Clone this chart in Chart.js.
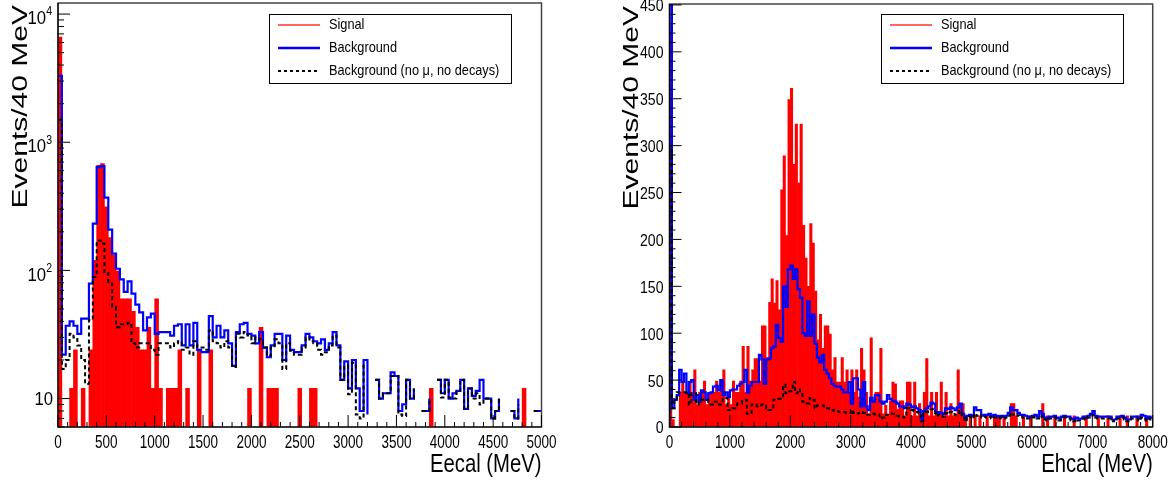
<!DOCTYPE html>
<html>
<head>
<meta charset="utf-8">
<script src="https://cdn.jsdelivr.net/npm/chart.js@4.4.1/dist/chart.umd.min.js"></script>
<style>
  body { margin: 0; background: #fff; }
  canvas { position: absolute; top: 0; }
  #ecal { left: 0; }
  #hcal { left: 585px; }
</style>
</head>
<body>
<canvas id="ecal" width="585" height="485"></canvas>
<canvas id="hcal" width="586" height="485"></canvas>
<script>
// 40 MeV bins, counts per bin
const BIN = 40;
const seriesNames = ['Signal', 'Background', 'Background (no \u03bc, no decays)'];

// ---- ECAL, 0-5000 MeV, 125 bins ----
const ecalSignal = [
  6600, 0, 0, 12, 24, 0, 12, 0, 24, 120,
  660, 680, 313, 180, 131, 99, 60, 60, 60, 48,
  36, 24, 24, 36, 12, 60, 12, 0, 12, 12,
  12, 24, 0, 12, 0, 0, 24, 0, 0, 24,
  0, 0, 0, 0, 0, 0, 0, 0, 0, 12,
  0, 0, 36, 0, 12, 12, 12, 0, 0, 0,
  0, 0, 12, 0, 0, 12, 12, 0, 0, 0,
  0, 0, 0, 0, 0, 0, 0, 0, 0, 0,
  0, 0, 0, 0, 0, 0, 0, 0, 0, 0,
  0, 0, 0, 0, 0, 0, 12, 0, 0, 0,
  0, 0, 0, 0, 0, 0, 0, 0, 0, 0,
  0, 0, 0, 0, 0, 0, 0, 0, 0, 0,
  12, 0, 0, 0, 0
];
const ecalBackground = [
  3300, 22, 37, 40, 37, 32, 42, 42, 79, 232,
  640, 650, 370, 208, 135, 103, 85, 68, 82, 66,
  54, 47, 34, 43, 46, 32, 33, 33, 33, 31,
  37, 38, 26, 38, 26, 39, 24, 23, 23, 44,
  30, 37, 30, 34, 27, 18, 33, 38, 39, 32,
  31, 27, 33, 25, 21, 26, 32, 32, 20, 31,
  24, 23, 23, 26, 32, 30, 28, 27, 29, 24,
  27, 33, 26, 14, 19.5, 12, 20, 12, 8, 20,
  7.5, 0, 14, 10, 11, 11, 16, 15, 8, 9,
  14, 10, 12, 0, 8, 8, 10, 0, 14, 11,
  14, 10, 11, 11.5, 14, 8.3, 12, 10.5, 11.5, 14,
  10, 10, 7, 8, 10, 0, 0, 8, 7, 10,
  0, 8, 0, 8, 8
];
const ecalBackgroundClean = [
  1500, 17, 20, 32, 30, 26, 20, 13, 41, 89,
  171, 162, 97, 79, 52, 36, 38, 38, 39, 27,
  25, 27, 27, 27, 24, 22, 27, 27, 27, 25,
  27, 28, 24, 25, 22, 28, 25, 25, 24, 34,
  28, 27, 25, 28, 25, 17.6, 32, 30, 33, 31,
  27, 30, 29, 25, 21.6, 25, 29, 27, 17, 27,
  23.6, 22, 22, 25, 30, 28, 27, 24, 22, 23,
  26, 31, 25, 14, 18, 10.8, 19, 7.5, 7, 19,
  0, 0, 14, 10, 11, 11, 15, 15, 7.5, 7.3,
  14, 10, 12, 0, 8, 8, 10, 0, 14, 10.2,
  14, 10.2, 10, 11.5, 14, 8.3, 12, 10, 11, 9,
  10, 10, 7, 8, 10, 0, 0, 8, 7, 9,
  0, 8, 0, 8, 8
];
const ecalXTicks = [0, 500, 1000, 1500, 2000, 2500, 3000, 3500, 4000, 4500, 5000];
const ecalYTicks = [10, 100, 1000, 10000];

// ---- HCAL, 0-8000 MeV, 200 bins ----
const hcalSignal = [
  428, 8, 0, 0, 37, 49, 37, 37, 49, 37,
  61, 24, 37, 37, 49, 24, 37, 37, 37, 49,
  37, 49, 61, 24, 37, 24, 49, 37, 37, 49,
  86, 37, 86, 49, 61, 73, 73, 49, 108, 108,
  74, 133, 158, 132, 156, 125, 253, 289, 204, 349,
  361, 280, 323, 260, 323, 215, 180, 150, 217, 196,
  145, 93, 120, 84, 108, 108, 99, 61, 74, 48,
  48, 74, 48, 61, 37, 61, 37, 61, 32, 84,
  61, 37, 14, 95, 28, 37, 37, 84, 14, 23,
  12, 28, 48, 46, 19, 28, 28, 12, 48, 48,
  12, 48, 12, 25, 12, 37, 73, 12, 37, 12,
  37, 12, 48, 12, 37, 12, 25, 12, 12, 61,
  25, 25, 12, 0, 12, 0, 12, 0, 12, 0,
  0, 12, 0, 0, 12, 12, 12, 0, 12, 0,
  0, 25, 25, 12, 0, 0, 12, 0, 0, 12,
  0, 0, 0, 0, 25, 0, 12, 0, 0, 12,
  0, 0, 0, 12, 0, 0, 0, 12, 0, 0,
  0, 0, 12, 0, 0, 0, 0, 12, 0, 0,
  0, 12, 0, 0, 0, 0, 12, 0, 0, 12,
  0, 0, 0, 12, 0, 0, 0, 12, 0, 0
];
const hcalBackground = [
  520, 20, 29, 34, 61, 48, 57, 36, 48, 50,
  29, 34, 27, 39, 37, 29, 36, 37, 43, 44,
  39, 50, 34, 37, 32, 39, 40, 40, 44, 46,
  48, 61, 37, 44, 48, 48, 48, 77, 72, 46,
  72, 73, 84, 86, 109, 95, 91, 150, 128, 168,
  172, 158, 168, 147, 138, 100, 97, 134, 97, 120,
  89, 74, 69, 77, 61, 57, 52, 46, 44, 43,
  43, 40, 37, 37, 48, 25, 52, 52, 40, 22,
  48, 22, 18, 31, 27, 34, 34, 27, 25, 27,
  34, 30, 28, 27, 25, 22, 22, 20, 25, 24,
  21, 22, 20, 18, 8, 17, 20, 22, 26, 25,
  15, 16, 15, 14, 20, 19, 21, 20, 18, 21,
  25, 14, 8, 12, 13, 12, 21, 18, 18, 12,
  13, 13, 14, 11, 13, 12, 11, 12, 11, 12,
  15, 21, 18, 18, 15, 13, 13, 12, 11, 11,
  12, 13, 11, 17, 14, 10, 9, 11, 11, 12,
  10, 9, 11, 12, 11, 11, 9, 8, 10, 9,
  9, 11, 10, 12, 14, 17, 12, 11, 11, 11,
  11, 11, 11, 8, 8, 11, 11, 12, 10, 8,
  8, 11, 11, 11, 9, 13, 12, 9, 11, 10
];
const hcalBackgroundClean = [
  300, 20, 30, 37, 37, 37, 37, 36, 24, 36,
  36, 24, 27, 29, 29, 29, 24, 24, 27, 27,
  24, 24, 31, 31, 18, 18, 20, 20, 25, 25,
  29, 29, 14, 14, 24, 24, 22, 22, 24, 24,
  20, 18, 18, 29, 29, 30, 30, 45, 36, 38,
  38, 48, 36, 40, 38, 27, 25, 25, 31, 29,
  20, 23, 23, 23, 20, 20, 18, 18, 17, 17,
  16, 16, 16, 15, 15, 18, 15, 14, 15, 16,
  15, 13, 13, 14, 14, 13, 13, 9, 10, 13,
  13, 14, 14, 14, 12, 11, 11, 10, 20, 20,
  18, 17, 16, 15, 6, 14, 16, 18, 19, 18,
  12, 13, 12, 11, 15, 14, 16, 15, 13, 15,
  17, 11, 6, 10, 11, 9, 14, 12, 13, 10,
  11, 10, 11, 9, 10, 10, 9, 10, 9, 10,
  12, 15, 13, 14, 12, 11, 10, 10, 9, 9,
  10, 11, 9, 12, 11, 8, 7, 9, 9, 10,
  8, 7, 9, 10, 9, 9, 7, 6, 8, 7,
  7, 9, 8, 10, 11, 13, 10, 9, 9, 9,
  9, 9, 9, 6, 7, 9, 9, 10, 8, 6,
  7, 9, 9, 9, 7, 10, 10, 7, 9, 8
];
const hcalXTicks = [0, 1000, 2000, 3000, 4000, 5000, 6000, 7000, 8000];
const hcalYTicks = [0, 50, 100, 150, 200, 250, 300, 350, 400, 450];

const FONT = '"Liberation Sans", Arial, Helvetica, sans-serif';

// bar per bin, centred in the bin; empty bins left out
function barPoints(values) {
  return values.map((v, i) => ({ x: i * BIN + BIN / 2, y: v > 0 ? v : null }));
}

// histogram outline: rise from the axis at x=0, then one step per bin
function stepPoints(values) {
  const pts = [{ x: 0, y: 0 }];
  values.forEach((v, i) => pts.push({ x: i * BIN, y: v }));
  pts.push({ x: values.length * BIN, y: values[values.length - 1] });
  return pts;
}

function text(ctx, str, x, y, size, align, baseline, squeeze, rotated) {
  ctx.save();
  ctx.translate(x, y);
  if (rotated) {
    ctx.rotate(-Math.PI / 2);
    ctx.scale(1, squeeze);
  } else {
    ctx.scale(squeeze, 1);
  }
  ctx.font = size + 'px ' + FONT;
  ctx.textAlign = align;
  ctx.textBaseline = baseline;
  ctx.fillStyle = '#000';
  ctx.fillText(str, 0, 0);
  ctx.restore();
}

// ROOT-style frame, inward ticks, labels, titles and legend box
function frameAndLegend(p) {
  return {
    id: 'frameAndLegend',
    afterDatasetsDraw(chart) {
      const { ctx, chartArea: a, scales: { x, y } } = chart;
      ctx.save();

      ctx.strokeStyle = '#444';
      ctx.lineWidth = 1.5;
      ctx.strokeRect(a.left, a.top, a.right - a.left, a.bottom - a.top);
      ctx.strokeStyle = '#000';
      ctx.lineWidth = 1.2;
      ctx.beginPath();
      ctx.moveTo(a.left, a.top);
      ctx.lineTo(a.left, a.bottom);
      ctx.lineTo(a.right, a.bottom);
      ctx.stroke();

      // x ticks
      ctx.lineWidth = 1;
      ctx.beginPath();
      for (let v = 0; v <= p.xMax; v += p.xMinor) {
        const px = x.getPixelForValue(v);
        const len = p.xTicks.includes(v) ? 12 : 5;
        ctx.moveTo(px, a.bottom);
        ctx.lineTo(px, a.bottom - len);
      }
      // y ticks
      if (p.log) {
        for (let d = 1; d <= 10000; d *= 10) {
          for (let m = 1; m <= 9; m++) {
            const v = m * d;
            if (v < p.yMin || v > p.yMax) continue;
            const py = y.getPixelForValue(v);
            ctx.moveTo(a.left, py);
            ctx.lineTo(a.left + (m === 1 ? 12 : 6), py);
          }
        }
      } else {
        for (let v = 0; v <= p.yMax; v += p.yMinor) {
          const py = y.getPixelForValue(v);
          ctx.moveTo(a.left, py);
          ctx.lineTo(a.left + (p.yTicks.includes(v) ? 12 : 6), py);
        }
      }
      ctx.stroke();

      // tick labels
      p.xTicks.forEach(v => {
        text(ctx, String(v), x.getPixelForValue(v), a.bottom + 21, 18, 'center', 'alphabetic', 0.75);
      });
      p.yTicks.forEach(v => {
        const py = y.getPixelForValue(v);
        if (p.log) {
          const e = Math.round(Math.log10(v));
          if (e === 1) {
            text(ctx, '10', a.left - 5, py + 1, 19, 'right', 'middle', 0.88);
          } else {
            ctx.font = '12px ' + FONT;
            const w = ctx.measureText(String(e)).width * 0.88;
            text(ctx, String(e), a.left - 6, py - 2, 12, 'right', 'middle', 0.88);
            text(ctx, '10', a.left - 6 - w, py + 5, 19, 'right', 'middle', 0.88);
          }
        } else {
          text(ctx, String(v), a.left - 6, py + 2, 16, 'right', 'middle', 0.88);
        }
      });

      // axis titles
      text(ctx, 'Events/40 MeV', p.yTitleX, a.top + 2, 30, 'right', 'alphabetic', 0.71, true);
      text(ctx, p.xTitle, a.right, 472, 26, 'right', 'alphabetic', 0.78);

      // legend
      const lx = p.legendX, ly = 14, lw = 242, lh = 69;
      ctx.fillStyle = '#fff';
      ctx.fillRect(lx, ly, lw, lh);
      ctx.strokeStyle = '#000';
      ctx.lineWidth = 1;
      ctx.strokeRect(lx + 0.5, ly + 0.5, lw, lh);
      const rows = [
        { color: 'rgba(255,0,0,0.6)', width: 2, dash: [] },
        { color: '#0000ff', width: 2.5, dash: [] },
        { color: '#000', width: 2, dash: [3, 3] }
      ];
      rows.forEach((r, i) => {
        const ry = ly + 11 + i * 23;
        ctx.strokeStyle = r.color;
        ctx.lineWidth = r.width;
        ctx.setLineDash(r.dash);
        ctx.beginPath();
        ctx.moveTo(lx + 9, ry);
        ctx.lineTo(lx + 51, ry);
        ctx.stroke();
        ctx.setLineDash([]);
        text(ctx, seriesNames[i], lx + 60, ry, 15, 'left', 'middle', 0.85);
      });

      ctx.restore();
    }
  };
}

function drawPanel(p) {
  new Chart(document.getElementById(p.canvas), {
    type: 'bar',
    data: {
      datasets: [
        {
          type: 'line',
          label: seriesNames[2],
          data: stepPoints(p.clean),
          borderColor: '#000',
          borderWidth: 2,
          borderDash: [4, 3],
          stepped: 'before',
          pointRadius: 0,
          fill: false,
          order: 1
        },
        {
          type: 'line',
          label: seriesNames[1],
          data: stepPoints(p.background),
          borderColor: '#0000ff',
          borderWidth: 2.2,
          stepped: 'before',
          pointRadius: 0,
          fill: false,
          order: 2
        },
        {
          type: 'bar',
          label: seriesNames[0],
          data: barPoints(p.signal),
          backgroundColor: '#ff0000',
          borderWidth: 0,
          barPercentage: 1,
          categoryPercentage: 1,
          grouped: false,
          order: 3
        }
      ]
    },
    options: {
      responsive: false,
      animation: false,
      events: [],
      layout: { padding: p.padding },
      plugins: { legend: { display: false }, tooltip: { enabled: false } },
      scales: {
        x: { type: 'linear', min: 0, max: p.xMax, offset: false, display: false },
        y: p.log
          ? { type: 'logarithmic', min: p.yMin, max: p.yMax, display: false }
          : { type: 'linear', min: 0, max: p.yMax, display: false }
      }
    },
    plugins: [frameAndLegend(p)]
  });
}

drawPanel({
  canvas: 'ecal',
  signal: ecalSignal, background: ecalBackground, clean: ecalBackgroundClean,
  xMax: 5000, xMinor: 100, xTicks: ecalXTicks,
  log: true, yMin: 6, yMax: 12200, yTicks: ecalYTicks,
  xTitle: 'Eecal (MeV)', yTitleX: 27, legendX: 269,
  padding: { left: 58, right: 43.5, top: 3, bottom: 58 }
});

drawPanel({
  canvas: 'hcal',
  signal: hcalSignal, background: hcalBackground, clean: hcalBackgroundClean,
  xMax: 8000, xMinor: 200, xTicks: hcalXTicks,
  log: false, yMax: 451, yMinor: 10, yTicks: hcalYTicks,
  xTitle: 'Ehcal (MeV)', yTitleX: 53, legendX: 296,
  padding: { left: 84.5, right: 18.3, top: 4, bottom: 58 }
});
</script>
</body>
</html>
